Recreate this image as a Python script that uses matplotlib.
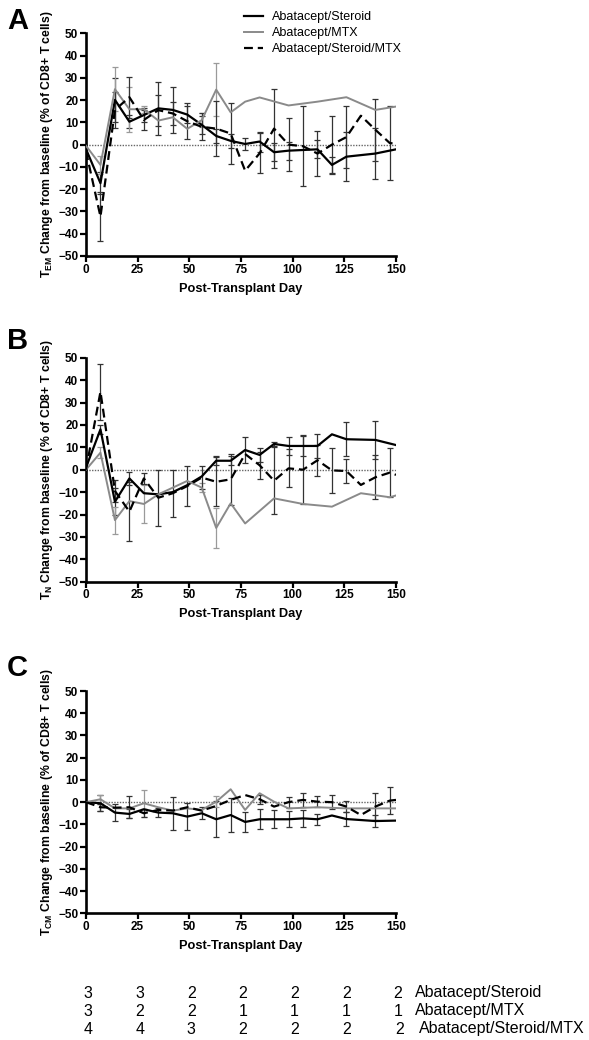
import numpy as np
import matplotlib
matplotlib.use("Agg")
import matplotlib.pyplot as plt

plt.rcParams['font.family'] = ['Liberation Sans', 'DejaVu Sans']
plt.rcParams['mathtext.fontset'] = 'custom'
plt.rcParams['mathtext.rm'] = 'Liberation Sans:bold'
plt.rcParams['mathtext.bf'] = 'Liberation Sans:bold'

series_names = ["Abatacept/Steroid", "Abatacept/MTX", "Abatacept/Steroid/MTX"]
all_days = [0, 7, 14, 21, 28, 35, 42, 49, 56, 63, 70, 77, 84, 91, 98, 105, 112,
            119, 126, 133, 140, 147, 150]

# ---------------- Panel A: T_EM ----------------
a_st_days = [0, 7, 14, 21, 28, 35, 42, 49, 56, 63, 70, 77, 84, 91, 98, 105, 112, 119, 126, 140, 150]
a_st_vals = [-2, -17.3, 20.1, 10.3, 13.3, 16.3, 15.6, 13.5, 8.9, 3.9, 1.7, 0.3, 1.4, -3.4, -2.7, -2.4,
             -2.1, -9.1, -5.4, -4, -2.1]
a_st_err = [0, 5, 10, 3, 3, 12, 10.5, 4, 4, 3, 3, 2.5, 4.5, 4, 4, 0, 4, 3.5, 11, 11.5, 0]

a_mtx_days = [0, 7, 14, 21, 28, 35, 42, 49, 56, 63, 70, 77, 84, 98, 112, 126, 140, 150]
a_mtx_vals = [-0.5, -9.1, 24.9, 15.9, 15.9, 10.8, 12.3, 7.1, 11, 24.7, 14.5, 19.3, 21.2, 17.6,
              19.3, 21.3, 15.6, 17.1]
a_mtx_err = [0, 4, 10, 10, 1.5, 0, 0, 0, 3, 11.8, 0, 0, 0, 0, 0, 0, 0, 0]

a_sm_days = all_days
a_sm_vals = [-3, -32.3, 15.6, 21.3, 11.1, 15.5, 14, 10.5, 8, 7.2, 5, -11.7, -3.9, 7.2, 0, -0.7,
             -4, 0, 3.4, 13, 6.7, 0.7, 0.5]
a_sm_err = [0, 11, 8, 9.2, 4.5, 7, 5, 8, 6, 12.5, 13.5, 0, 9, 17.6, 12, 18, 10, 13, 14, 0, 14,
            16.5, 0]

# ---------------- Panel B: T_N ----------------
b_st_days = [0, 7, 14, 21, 28, 35, 42, 49, 56, 63, 70, 77, 84, 91, 98, 105, 112, 119, 126, 140, 150]
b_st_vals = [1, 18, -14.3, -3.9, -10.5, -11, -10, -6.9, -3, 4, 4, 8.8, 6.6, 11.5, 10.6, 10.6,
             10.6, 15.8, 13.6, 13.3, 11]
b_st_err = [0, 2, 6, 3, 0, 0, 0, 0, 0, 2, 2, 6, 3, 1, 4, 4.5, 5.2, 0, 7.5, 8.4, 0]

b_mtx_days = [0, 7, 14, 21, 28, 35, 42, 49, 56, 63, 70, 77, 91, 105, 119, 133, 147, 150]
b_mtx_vals = [0, 7.6, -22.5, -14, -15.3, -11, -8, -5, -8, -26, -15, -24, -12.8, -15.3, -16.5,
              -10.5, -12.3, -11.5]
b_mtx_err = [0, 2.5, 6, 0, 8.3, 0, 0, 0, 2, 9, 0, 0, 0, 0, 0, 0, 0, 0]

b_sm_days = all_days
b_sm_vals = [0, 34.8, -9.5, -18.7, -3.9, -12.5, -10.5, -7.3, -3.5, -5.4, -4.3, 7, 2, -4.9, 0.6,
             0, 4.2, -0.3, -0.6, -6.8, -3.4, -1.3, -2.3]
b_sm_err = [0, 12.4, 5, 13, 2.5, 12.5, 10.5, 9, 5, 11, 11.5, 0, 6, 15, 8.5, 15.3, 7, 10, 5.2, 0,
            9.8, 10.8, 0]

# ---------------- Panel C: T_CM ----------------
c_st_days = [0, 7, 14, 21, 28, 35, 42, 49, 56, 63, 70, 77, 84, 91, 98, 105, 112, 119, 126, 140, 150]
c_st_vals = [0, -0.5, -4.7, -5.3, -3.2, -4.7, -5, -6.5, -5, -7.7, -5.8, -8.9, -7.7, -7.7, -7.7,
             -7.3, -7.7, -6, -7.6, -8.5, -8.3]
c_st_err = [0, 3.5, 3.8, 2, 0, 2, 7.5, 6, 2.8, 8, 7.5, 4.5, 4.5, 4, 3.5, 3.7, 2.5, 0, 3, 2.5, 0]

c_mtx_days = [0, 7, 14, 21, 28, 35, 42, 49, 56, 63, 70, 77, 84, 91, 98, 112, 126, 140, 150]
c_mtx_vals = [0, 1.3, -2.8, -2.8, -0.5, -2.3, -3.8, -2.8, -3.5, 0.2, 5.8, -3.5, 4, 0.2, -2.8,
              -2.3, -2.8, -2.8, -2.8]
c_mtx_err = [0, 2, 0, 0, 6, 0, 0, 0, 0, 2.5, 0, 0, 0, 0, 0, 0, 0, 0, 0]

c_sm_days = all_days
c_sm_vals = [0, -2.3, -2.5, -2.3, -5, -3.5, -3.8, -2.3, -3.8, -1.7, 1, 3.2, 1.3, -2, 0, 1, 0.2,
             0, -2, -5.8, -2, 0.7, 1]
c_sm_err = [0, 1.5, 0, 5, 1.7, 0, 0, 0, 0, 0, 0, 0, 2, 0, 2.5, 3, 2.6, 3, 2.5, 0, 6, 6, 0]

panel_letters = ["A", "B", "C"]
panel_subscripts = ["EM", "N", "CM"]
x_ticks = [0, 25, 50, 75, 100, 125, 150]
y_ticks = [-50, -40, -30, -20, -10, 0, 10, 20, 30, 40, 50]

# numbers-at-risk table
table_days = [0, 25, 50, 75, 100, 125, 150]
table_st = [3, 3, 2, 2, 2, 2, 2]
table_mtx = [3, 2, 2, 1, 1, 1, 1]
table_sm = [4, 4, 3, 2, 2, 2, 2]

panels = [
    ((a_st_days, a_st_vals, a_st_err), (a_mtx_days, a_mtx_vals, a_mtx_err), (a_sm_days, a_sm_vals, a_sm_err)),
    ((b_st_days, b_st_vals, b_st_err), (b_mtx_days, b_mtx_vals, b_mtx_err), (b_sm_days, b_sm_vals, b_sm_err)),
    ((c_st_days, c_st_vals, c_st_err), (c_mtx_days, c_mtx_vals, c_mtx_err), (c_sm_days, c_sm_vals, c_sm_err)),
]

W, H = 589, 1040
fig = plt.figure(figsize=(W / 100, H / 100), dpi=100)

def fx(px):
    return px / W

def fy(py):
    return 1 - py / H

left_px, right_px = 86, 396
panel_px = [(33.3, 256), (357.7, 581.7), (691, 913.3)]
letter_px = [(7, 7), (7, 327), (7, 654)]

styles = [
    dict(color="black", lw=1.6, ls="-", ecolor="#333333"),
    dict(color="#8a8a8a", lw=1.4, ls="-", ecolor="#9a9a9a"),
    dict(color="black", lw=1.6, ls=(0, (4, 2.2)), ecolor="#333333"),
]

axes = []
handles = []
for i, (series, (top, bot)) in enumerate(zip(panels, panel_px)):
    ax = fig.add_axes([fx(left_px), fy(bot), fx(right_px - left_px), (bot - top) / H])
    axes.append(ax)
    ax.axhline(0, color="#666666", lw=1.0, ls=(0, (1, 1)), zorder=1)
    for j, ((d, v, e), st) in enumerate(zip(series, styles)):
        d = np.array(d, float)
        v = np.array(v, float)
        e = np.array(e, float)
        m = e > 0
        ax.errorbar(d[m], v[m], yerr=e[m], fmt="none", ecolor=st["ecolor"], elinewidth=0.9,
                    capsize=2, capthick=0.9, zorder=2)
        ln, = ax.plot(d, v, color=st["color"], lw=st["lw"], ls=st["ls"], zorder=3)
        if i == 0:
            handles.append(ln)
    ax.set_xlim(0, 150)
    ax.set_ylim(-50, 50)
    ax.set_xticks(x_ticks)
    ax.set_yticks(y_ticks)
    for s in ["top", "right"]:
        ax.spines[s].set_visible(False)
    for s in ["left", "bottom"]:
        ax.spines[s].set_linewidth(1.9)
    ax.tick_params(direction="out", length=4, width=1.6, labelsize=8.5, pad=1.5)
    for lab in ax.get_xticklabels() + ax.get_yticklabels():
        lab.set_fontweight("bold")
    ax.set_xlabel("Post-Transplant Day", fontsize=9.2, fontweight="bold", labelpad=5)
    ax.set_ylabel(r"T$_{\rm " + panel_subscripts[i] + r"}$ Change from baseline (% of CD8+ T cells)",
                  fontsize=8.8, fontweight="bold", labelpad=2)
    lx, ly = letter_px[i]
    fig.text(fx(lx), fy(ly), panel_letters[i], fontsize=21, fontweight="bold",
             ha="left", va="top")

fig.legend(handles, series_names, loc="upper left", bbox_to_anchor=(fx(244), fy(11)),
           frameon=False, fontsize=9, handlelength=1.5, handletextpad=0.7,
           labelspacing=0.32, borderpad=0, borderaxespad=0)

# table below panel C
rows = [(table_st, 993, 0), (table_mtx, 1011, 0), (table_sm, 1029, 2)]
for (vals, ypx, off), name in zip(rows, series_names):
    for k, (dd, val) in enumerate(zip(table_days, vals)):
        xo = 2 if k < len(vals) - 1 else 2 + off
        fig.text(fx(86 + (396 - 86) * dd / 150 + xo), fy(ypx), str(val), fontsize=11.5,
                 ha="center", va="center")
    fig.text(fx(415 + off * 2), fy(ypx), name, fontsize=11.5, ha="left", va="center")

fig.savefig("out.png", dpi=100)
